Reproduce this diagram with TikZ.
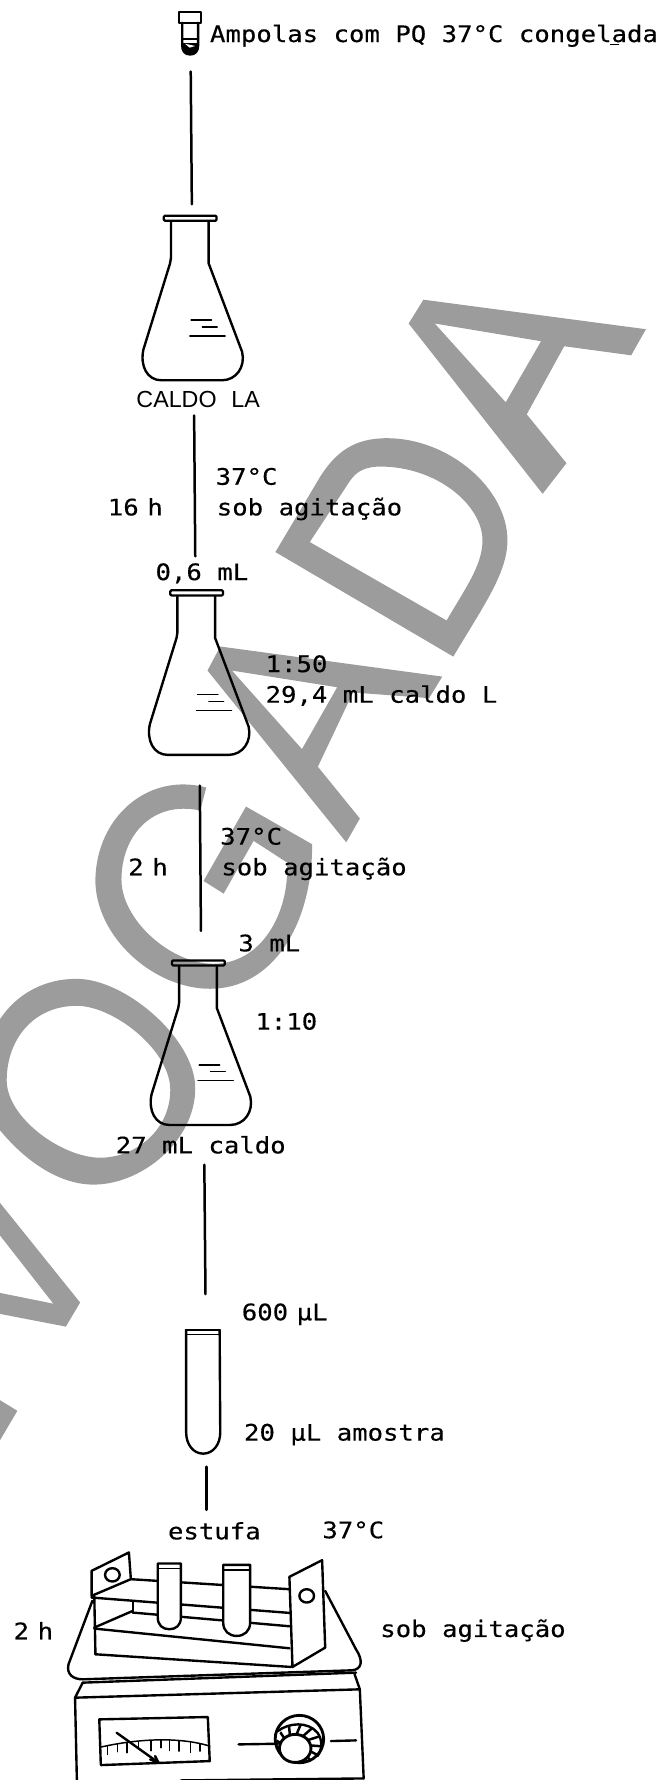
\documentclass[tikz,border=0pt]{standalone}
\usepackage{fontspec}
\setmainfont{Liberation Sans}
\newfontfamily\typer[FakeStretch=1.13,FakeBold=0.35]{DejaVu Sans Mono}
\definecolor{stamp}{HTML}{9C9C9C}
\newcommand{\tightgap}{\hspace{7.6pt}}
\tikzset{
  txt/.style={anchor=base west,inner sep=0pt,outer sep=0pt,font=\typer\fontsize{20}{22}\selectfont},
  ink/.style={draw=black,line width=2.1pt,line join=round,line cap=round},
  thin ink/.style={draw=black,line width=1.3pt,line cap=round,line join=round},
  link/.style={draw=black,line width=2.2pt,line cap=round},
  erlenmeyer/.pic={
    \draw[ink,fill=none] (-16.7,3.5) -- (-16.7,35) -- (-17.5,40) -- (-41,116)
      .. controls (-44,130) and (-38,143) .. (-25,143) -- (28,143)
      .. controls (41,143) and (49,131) .. (46,118) -- (16.5,40) -- (16.5,3.5);
    \draw[ink,line width=2pt,rounded corners=1pt] (-23,-2) rectangle (23.5,2.5);
    \draw[thin ink] (1,90) -- (19,90);
    \draw[thin ink] (11,96) -- (24,96);
    \draw[thin ink] (0,104) -- (31,104);
  }
}
\begin{document}
\begin{tikzpicture}[x=1pt,y=-1pt]
\useasboundingbox (0,0) rectangle (587,1568);

% stamped lettering behind the drawing
\fill[stamp,even odd rule]
  (373,264) -- (569,290) -- (556,313) -- (497,305) -- (464,365) -- (499,408) -- (478,435) -- (360,285) -- cycle
  (383,285) -- (476.6,300.6) -- (445.5,354.4) -- cycle;
\fill[stamp,even odd rule]
  (242.6,486.3) -- (399.3,578.4) .. controls (425,535) and (447,505) .. (447,476)
    .. controls (447,430) and (395,386) .. (341,386)
    .. controls (312,386) and (296,398) .. (282,420) -- cycle
  (272.9,477.5) -- (393.4,546.6) .. controls (410,518) and (425,498) .. (425,476)
    .. controls (425,445) and (385,411) .. (335,411)
    .. controls (322,411) and (314,415) .. (308,424) -- cycle;
\fill[stamp,even odd rule]
  (194,569.5) -- (389.6,596) -- (378,615) -- (311,610) -- (280,675.4) -- (317,721) -- (305,742) -- (182.8,590.7) -- cycle
  (204.3,590.7) -- (297,605.4) -- (266,659.9) -- cycle;
\fill[stamp]
  (181.7,693.7) .. controls (130,680) and (85,720) .. (84,775)
   .. controls (84,825) and (135,871) .. (185,871)
   .. controls (240,871) and (275,815) .. (275,743.7)
   -- (216.7,710.5) -- (179.3,776) -- (197,787.2) -- (223.4,740.7) -- (252.9,759.8)
   .. controls (255,805) and (230,849) .. (188,849)
   .. controls (150,849) and (107,810) .. (107,775)
   .. controls (107,735) and (135,705) .. (176.4,714) -- cycle;
\fill[stamp,even odd rule]
  (0,897.8) .. controls (15,875) and (40,862) .. (67.6,862.3)
   .. controls (110,862) and (172,915) .. (172,958.5)
   .. controls (172,1005) and (125,1043.5) .. (82.4,1043.5)
   .. controls (50,1043.5) and (20,1020) .. (0,995.6) -- cycle
  (5.9,951.7) .. controls (6,915) and (30,886) .. (67.6,886)
   .. controls (100,886) and (150,925) .. (150,960)
   .. controls (150,995) and (120,1019.8) .. (88.2,1019.8)
   .. controls (55,1019.8) and (6,985) .. (5.9,951.7) -- cycle;
\fill[stamp] (0,1059.6) -- (70.6,1147.4) -- (58,1168.6) -- (0,1157.4) -- (0,1138.9) -- (47,1148.4) -- (0,1088.3) -- cycle;
\fill[stamp] (0,1233.4) -- (15.3,1242.8) -- (0,1268.7) -- cycle;

% frozen ampoule
\draw[ink] (157.5,10.5) rectangle (177,20);
\draw[ink] (160.5,20) -- (160.5,40) .. controls (160.5,45) and (163,48) .. (167.5,48)
  .. controls (172,48) and (174.5,45) .. (174.5,40) -- (174.5,20);
\draw[ink] (160.5,34.5) -- (174.5,34.5);
\fill[black] (160.5,38) -- (174.5,38) -- (174.5,40) .. controls (174.5,45) and (172,48) .. (167.5,48)
  .. controls (163,48) and (160.5,45) .. (160.5,40) -- cycle;
\fill[white] (163,38.5) -- (172,40.5) -- (167,42) -- cycle;
\node[txt] (ampola) at (185,37) {Ampolas com PQ 37°C congelada};
\draw[line width=1pt] (537,39) -- (545,39);

% first culture flask
\coordinate (a1) at (168,63);
\coordinate (a2) at (169,180);
\draw[link] (a1) -- (a2);
\pic at (167.3,192) {erlenmeyer};
\node[anchor=base west,inner sep=0pt,font=\fontsize{20.5}{22}\selectfont] (caldola) at (120,359) {CALDO\hspace{13pt}LA};

\coordinate (b1) at (171,366);
\coordinate (b2) at (172,490);
\draw[link] (b1) -- (b2);
\node[txt] (t37a) at (190,427) {37°C};
\node[txt] (soba) at (191,454) {sob agitação};
\node[txt] (h16) at (95,454) {16\tightgap h};
\node[txt] (ml06) at (137,511) {0,6 mL};

% second flask
\pic at (173,522) {erlenmeyer};
\node[txt] (d150) at (234,592) {1:50};
\node[txt] (ml294) at (234,619) {29,4 mL caldo L};

\coordinate (c1) at (176,692);
\coordinate (c2) at (177,820);
\draw[link] (c1) -- (c2);
\node[txt] (t37b) at (194,744) {37°C};
\node[txt] (sobb) at (195,771) {sob agitação};
\node[txt] (h2a) at (113,771) {2\tightgap h};
\node[txt] (ml3) at (210,838) {3 mL};

% third flask
\pic at (174.5,848) {erlenmeyer};
\node[txt] (d110) at (225,907) {1:10};
\node[txt] (ml27) at (102,1016) {27 mL caldo};

\coordinate (e1) at (180,1026);
\coordinate (e2) at (181,1140);
\draw[link] (e1) -- (e2);
\node[txt] (ul600) at (213,1163) {600\tightgap µL};

% sample tube
\draw[ink] (164,1172) -- (164,1262) .. controls (164,1272) and (170,1280.5) .. (179,1280.5)
  .. controls (188,1280.5) and (194,1272) .. (194,1262) -- (193.5,1172);
\draw[ink,line width=1.6pt] (163.5,1171.5) -- (194,1171.5);
\draw[thin ink] (164,1175.5) -- (194,1175.5);
\node[txt] (ul20) at (215,1269) {20 µL amostra};

\coordinate (f1) at (182,1292);
\coordinate (f2) at (182,1330);
\draw[link] (f1) -- (f2);
\node[txt] (estufa) at (148,1356) {estufa};
\node[txt] (t37c) at (284,1355) {37°C};
\node[txt] (h2b) at (12,1444) {2\tightgap h};
\node[txt] (sobc) at (335,1442) {sob agitação};

% orbital shaker with rack and tubes
\begin{scope}[shift={(0,1322)},x=0.339pt,y=-0.294pt]
  % tray
  \draw[ink] (240,300) -- (178,490) .. controls (172,520) and (190,535) .. (215,535) -- (915,508)
     .. controls (940,505) and (945,480) .. (925,445) -- (845,270);
  \draw[ink] (215,545) -- (925,515);
  % rack rails
  \draw[ink] (340,235) -- (752,265);
  \draw[ink] (238,290) -- (752,336);
  \draw[ink] (345,335) -- (752,376);
  \draw[ink] (245,380) -- (345,330);
  \draw[ink] (345,303) -- (345,335);
  \draw[ink] (245,383) -- (752,442);
  \draw[ink] (248,460) -- (757,498);
  \draw[ink] (245,285) -- (248,460);
  % end plates
  \draw[ink] (238,210) -- (335,155) -- (340,235) -- (238,285) -- cycle;
  \draw[ink] (292,222) circle[x radius=19,y radius=20];
  \draw[ink,fill=white] (752,228) -- (837,178) -- (845,440) -- (760,498) -- cycle;
  \draw[ink] (797,285) circle[x radius=19,y radius=20];
  % tubes in the rack
  \draw[ink,fill=white] (410,188) -- (410,350) .. controls (410,372) and (422,385) .. (440,385)
    .. controls (458,385) and (470,372) .. (470,350) -- (470,188) -- cycle;
  \draw[thin ink] (410,203) -- (470,203);
  \draw[ink,fill=white] (580,192) -- (580,365) .. controls (580,390) and (595,405) .. (615,405)
    .. controls (635,405) and (650,390) .. (650,365) -- (650,192) -- cycle;
  \draw[thin ink] (580,207) -- (650,207);
  % control box
  \draw[ink] (195,590) -- (935,565);
  \draw[ink] (195,590) -- (200,850);
  \draw[ink] (935,565) -- (945,832) -- (470,838);
  \draw[ink] (215,545) -- (195,590);
  \draw[ink] (920,515) -- (935,565);
  % dial gauge
  \draw[ink] (258,655) -- (540,648) -- (545,780) -- (262,792) -- cycle;
  \draw[thin ink] (262,738) .. controls (350,715) and (460,705) .. (545,735);
  \foreach \tx/\ty/\tl in {280/735/25,305/730/22,330/725/30,360/722/22,392/719/30,418/718/22,440/718/30,465/720/30,495/724/30,520/728/22}{
    \draw[thin ink] (\tx,\ty) -- (\tx,\ty+\tl);
  }
  \draw[ink] (303,695) -- (412,785);
  \draw[ink] (403,765) -- (412,785) -- (390,775);
  % speed knob: outer ring, hatched collar, white cap
  \draw[ink] (620,730) -- (722,728);
  \draw[ink] (860,720) -- (925,718);
  \draw[ink,line width=2.5pt] (778,714) circle[x radius=63,y radius=71];
  \begin{scope}
    \clip (775,730) circle[x radius=58,y radius=62];
    \foreach \ang in {165,140,115,90,65,40,15,-10,-35}{
      \draw[line width=2.2pt]
        ({767+30*cos(\ang)},{740-30*sin(\ang)}) -- ({767+100*cos(\ang-14)},{740-100*sin(\ang-14)});
    }
  \end{scope}
  \draw[ink] (722,690) .. controls (750,665) and (800,660) .. (825,695) .. controls (838,715) and (838,745) .. (825,765);
  \draw[ink,line width=2.5pt,fill=white] (767,742) circle[x radius=41,y radius=42];
\end{scope}
\end{tikzpicture}
\end{document}
